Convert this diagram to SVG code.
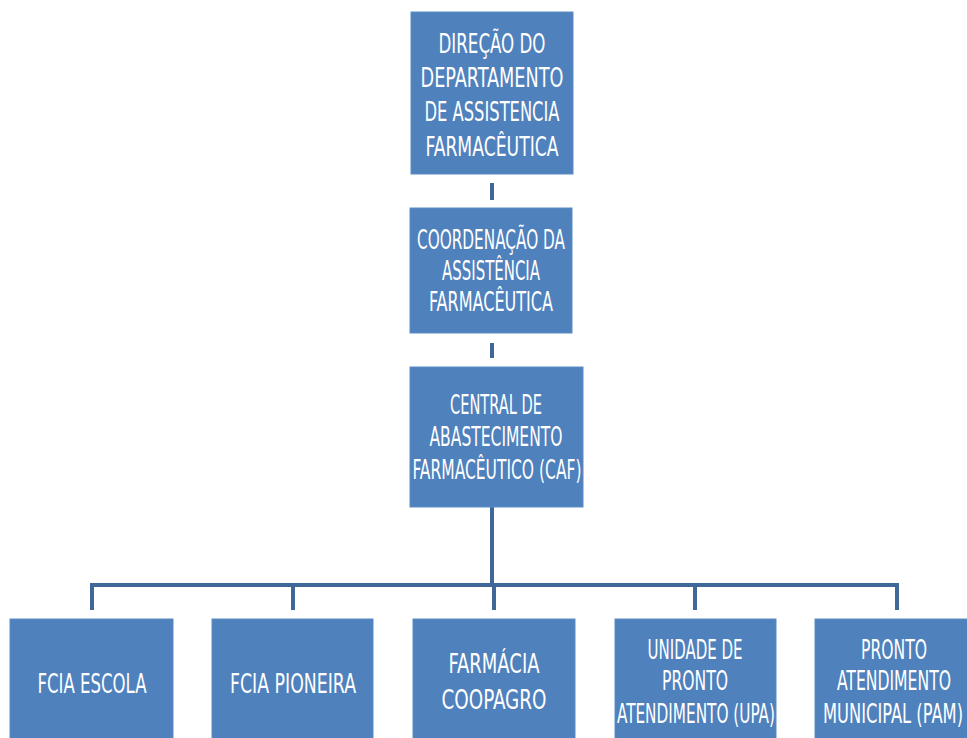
<svg xmlns="http://www.w3.org/2000/svg" width="967" height="738" viewBox="0 0 967 738">
<style>
.box{fill:#4F81BD;stroke:#5b8cc4;stroke-width:1}
.t{fill:#ffffff;font-family:"DejaVu Sans Condensed","Liberation Sans",sans-serif;font-size:26px;text-anchor:middle}
.ln{stroke:#3f6899;stroke-width:4;fill:none;stroke-linecap:butt}
</style>
<rect width="967" height="738" fill="#ffffff"/>
<g id="connectors">
<line class="ln" x1="492" y1="183" x2="492" y2="200"/>
<line class="ln" x1="492" y1="343" x2="492" y2="358"/>
<path class="ln" d="M492 507 V585"/>
<path class="ln" d="M92 610 V585 H897 V610"/>
<line class="ln" x1="293" y1="585" x2="293" y2="610"/>
<line class="ln" x1="494" y1="585" x2="494" y2="610"/>
<line class="ln" x1="695" y1="585" x2="695" y2="610"/>
</g>
<g id="n1">
<rect class="box" x="411" y="12" width="162" height="162"/>
<text class="t" x="492" y="53" textLength="107" lengthAdjust="spacingAndGlyphs">DIREÇÃO DO</text>
<text class="t" x="492" y="87" textLength="143" lengthAdjust="spacingAndGlyphs">DEPARTAMENTO</text>
<text class="t" x="492" y="121" textLength="135" lengthAdjust="spacingAndGlyphs">DE ASSISTENCIA</text>
<text class="t" x="492" y="156" textLength="133" lengthAdjust="spacingAndGlyphs">FARMACÊUTICA</text>
</g>
<g id="n2">
<rect class="box" x="410" y="208" width="162" height="125"/>
<text class="t" x="491" y="249" textLength="148" lengthAdjust="spacingAndGlyphs">COORDENAÇÃO DA</text>
<text class="t" x="491" y="280" textLength="98" lengthAdjust="spacingAndGlyphs">ASSISTÊNCIA</text>
<text class="t" x="491" y="311" textLength="124" lengthAdjust="spacingAndGlyphs">FARMACÊUTICA</text>
</g>
<g id="n3">
<rect class="box" x="410" y="367" width="173" height="140"/>
<text class="t" x="496" y="414" textLength="92" lengthAdjust="spacingAndGlyphs">CENTRAL DE</text>
<text class="t" x="496" y="446" textLength="133" lengthAdjust="spacingAndGlyphs">ABASTECIMENTO</text>
<text class="t" x="497" y="479" textLength="169" lengthAdjust="spacingAndGlyphs">FARMACÊUTICO (CAF)</text>
</g>
<g id="n4">
<rect class="box" x="10" y="619" width="163" height="130"/>
<text class="t" x="92" y="693" textLength="109" lengthAdjust="spacingAndGlyphs">FCIA ESCOLA</text>
</g>
<g id="n5">
<rect class="box" x="212" y="619" width="161" height="130"/>
<text class="t" x="293" y="693" textLength="126" lengthAdjust="spacingAndGlyphs">FCIA PIONEIRA</text>
</g>
<g id="n6">
<rect class="box" x="413" y="619" width="162" height="130"/>
<text class="t" x="494" y="673" textLength="91" lengthAdjust="spacingAndGlyphs">FARMÁCIA</text>
<text class="t" x="494" y="709" textLength="105" lengthAdjust="spacingAndGlyphs">COOPAGRO</text>
</g>
<g id="n7">
<rect class="box" x="615" y="619" width="161" height="130"/>
<text class="t" x="695" y="659" textLength="95" lengthAdjust="spacingAndGlyphs">UNIDADE DE</text>
<text class="t" x="695" y="690" textLength="66" lengthAdjust="spacingAndGlyphs">PRONTO</text>
<text class="t" x="696" y="723" textLength="158" lengthAdjust="spacingAndGlyphs">ATENDIMENTO (UPA)</text>
</g>
<g id="n8">
<rect class="box" x="815" y="619" width="164" height="130"/>
<text class="t" x="894" y="659" textLength="66" lengthAdjust="spacingAndGlyphs">PRONTO</text>
<text class="t" x="894" y="690" textLength="114" lengthAdjust="spacingAndGlyphs">ATENDIMENTO</text>
<text class="t" x="893" y="723" textLength="140" lengthAdjust="spacingAndGlyphs">MUNICIPAL (PAM)</text>
</g>
</svg>
